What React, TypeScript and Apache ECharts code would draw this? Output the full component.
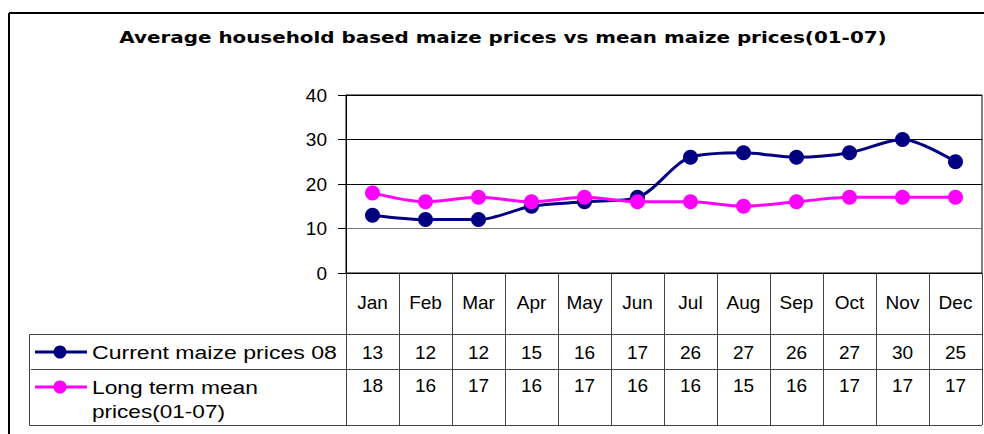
import React, { useEffect, useRef } from "react";
import * as echarts from "echarts";

const months = ["Jan", "Feb", "Mar", "Apr", "May", "Jun", "Jul", "Aug", "Sep", "Oct", "Nov", "Dec"];
const currentPrices = [13, 12, 12, 15, 16, 17, 26, 27, 26, 27, 30, 25];
const longTermMean = [18, 16, 17, 16, 17, 16, 16, 15, 16, 17, 17, 17];
const yTicks = { min: 0, max: 40, interval: 10 };
const seriesNames = ["Current maize prices 08", "Long term mean prices(01-07)"];
const legendLines = [["Current maize prices 08"], ["Long term mean", "prices(01-07)"]];
const titleText = "Average household based maize prices vs mean maize prices(01-07)";

const FONT = "'Liberation Sans', Arial, sans-serif";
const NAVY = "#000080";
const MAGENTA = "#FF00FF";

function measure(text: string, font: string): number {
  const c = document.createElement("canvas");
  const ctx = c.getContext("2d");
  if (!ctx) return 0;
  ctx.font = font;
  return ctx.measureText(text).width;
}

export default function App() {
  const ref = useRef<HTMLDivElement>(null);
  useEffect(() => {
    if (!ref.current) return;
    const chart = echarts.init(ref.current, undefined, { renderer: "svg" });
    const gridLeft = 346, gridRight = 982, gridTop = 95, gridBottom = 273;
    const tableBottom = 425;
    const tableLine = "#444";

    const titleFont = `bold 15px 'DejaVu Sans'`;
    const titleScale = 768 / (measure(titleText, titleFont) || 768);
    const legFont = `19px 'Liberation Sans'`;
    const legTargets = [245, 166, 133];
    const legTexts = [legendLines[0][0], legendLines[1][0], legendLines[1][1]];
    const legScales = legTexts.map((t, i) => legTargets[i] / (measure(t, legFont) || legTargets[i]));
    const legY = [352, 387, 411];

    const tableAxis = (data: string[], margin: number) => ({
      type: "category",
      data,
      gridIndex: 0,
      position: "bottom",
      boundaryGap: true,
      axisLine: { show: false },
      axisTick: { show: false },
      splitLine: { show: false },
      axisLabel: {
        interval: 0,
        margin,
        verticalAlign: "middle",
        color: "#000",
        fontFamily: FONT,
        fontSize: 19,
      },
    });
    chart.setOption({
      animation: false,
      backgroundColor: "#fff",
      grid: {
        left: gridLeft,
        right: 984 - gridRight,
        top: gridTop,
        bottom: 434 - gridBottom,
        show: true,
        borderColor: "#000",
        borderWidth: 1,
        containLabel: false,
      },
      xAxis: [
        {
          type: "category",
          data: months,
          boundaryGap: true,
          axisLine: { show: true, lineStyle: { color: "#000", width: 1 } },
          axisTick: { show: true, length: tableBottom - gridBottom, inside: false, lineStyle: { color: tableLine, width: 1 } },
          axisLabel: { interval: 0, margin: 29, verticalAlign: "middle", color: "#000", fontFamily: FONT, fontSize: 19 },
          splitLine: { show: false },
        },
        tableAxis(currentPrices.map(String), 79),
        tableAxis(longTermMean.map(String), 112),
      ],
      yAxis: {
        type: "value",
        min: yTicks.min,
        max: yTicks.max,
        interval: yTicks.interval,
        axisLine: { show: true, lineStyle: { color: "#000", width: 1 } },
        axisTick: { show: true, length: 8, lineStyle: { color: "#000" } },
        axisLabel: { margin: 19, color: "#000", fontFamily: FONT, fontSize: 19 },
        splitLine: { show: true, lineStyle: { color: ["#000", "#777", "#000", "#000", "#000"], width: 1 } },
      },
      series: [
        {
          name: seriesNames[0],
          type: "line",
          data: currentPrices,
          smooth: 0.3,
          symbol: "circle",
          symbolSize: 15,
          lineStyle: { color: NAVY, width: 3 },
          itemStyle: { color: NAVY },
        },
        {
          name: seriesNames[1],
          type: "line",
          data: longTermMean,
          smooth: 0.3,
          symbol: "circle",
          symbolSize: 15,
          lineStyle: { color: MAGENTA, width: 3 },
          itemStyle: { color: MAGENTA },
        },
      ],
      graphic: [
        // title
        {
          type: "text",
          x: 503,
          y: 38,
          scaleX: titleScale,
          style: {
            text: titleText,
            font: titleFont,
            fill: "#000",
            align: "center",
            verticalAlign: "middle",
          },
        },
        // outer chart border
        { type: "line", shape: { x1: 9, y1: 13, x2: 984, y2: 13 }, style: { stroke: "#000", lineWidth: 2 } },
        { type: "line", shape: { x1: 9, y1: 13, x2: 9, y2: 434 }, style: { stroke: "#000", lineWidth: 2 } },
        // table lines
        { type: "line", shape: { x1: 29.5, y1: 334.5, x2: gridRight, y2: 334.5 }, style: { stroke: tableLine, lineWidth: 1 } },
        { type: "line", shape: { x1: 31, y1: 369.5, x2: gridRight, y2: 369.5 }, style: { stroke: tableLine, lineWidth: 1 } },
        { type: "line", shape: { x1: 29.5, y1: 425.5, x2: gridRight, y2: 425.5 }, style: { stroke: tableLine, lineWidth: 1 } },
        { type: "line", shape: { x1: 29.5, y1: 334.5, x2: 29.5, y2: 425.5 }, style: { stroke: tableLine, lineWidth: 1 } },
        // legend keys
        { type: "line", shape: { x1: 35, y1: 352, x2: 87, y2: 352 }, style: { stroke: NAVY, lineWidth: 3 } },
        { type: "circle", shape: { cx: 60, cy: 352, r: 6.5 }, style: { fill: NAVY } },
        { type: "line", shape: { x1: 35, y1: 387, x2: 87, y2: 387 }, style: { stroke: MAGENTA, lineWidth: 3 } },
        { type: "circle", shape: { cx: 60, cy: 387, r: 6.5 }, style: { fill: MAGENTA } },
        ...legTexts.map((t, i) => ({
          type: "text",
          x: 92,
          y: legY[i],
          scaleX: legScales[i],
          style: { text: t, font: legFont, fill: "#000", verticalAlign: "middle" },
        })),
      ],
    });
    return () => chart.dispose();
  }, []);
  return (
    <div
      ref={ref}
      style={{ position: "fixed", left: 0, top: 0, width: 984, height: 434, background: "#fff" }}
    />
  );
}
